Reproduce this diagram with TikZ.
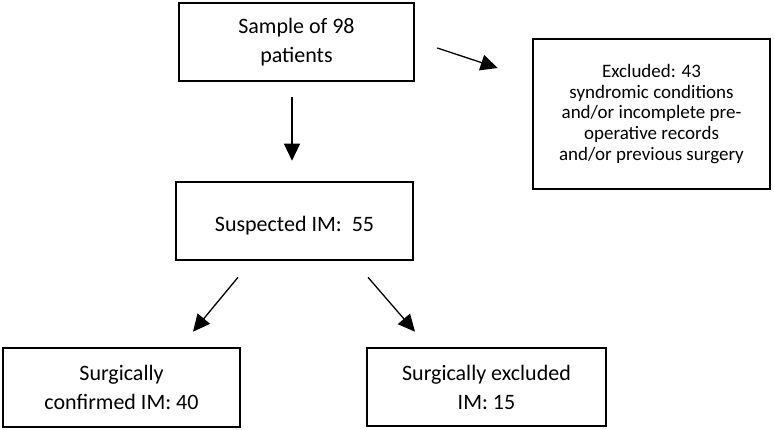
\documentclass[tikz,border=0pt]{standalone}
\usepackage{fontspec}
\setmainfont{Carlito}
\usetikzlibrary{arrows.meta, calc}

\begin{document}
\begin{tikzpicture}[x=1pt, y=-1pt,
    box/.style={draw, line width=2.6pt, align=center, inner sep=0pt,
      minimum width=237pt, minimum height=78pt,
      font=\fontsize{22}{29}\selectfont,
      execute at begin node={\rule{0pt}{25pt}}},
    flow/.style={-{Triangle[length=17pt, width=16pt]}, line width=1.3pt}]
  \useasboundingbox (0,0) rectangle (774,430);
  % boxes
  \node[box, minimum width=235pt] (sample) at (296.5,42) {Sample of 98\\patients};
  \node[box, minimum height=150pt, font=\fontsize{19}{20.75}\selectfont,
    execute at begin node={}] (excl) at (651.5,114)
    {Excluded: 43\\syndromic conditions\\and/or incomplete pre-\\operative records\\and/or previous surgery};
  \node[box] (susp) at (294.5,221) {Suspected IM:\ \ 55};
  \node[box, minimum height=79pt] (conf) at (121.5,387.5) {Surgically\\confirmed IM: 40};
  \node[box, minimum width=239pt] (exim) at (486.5,387) {Surgically excluded\\IM: 15};
  % arrows
  \draw[flow] ($(sample.south)+(-4.5,15)$) -- ($(susp.north)+(-2.5,-20)$);
  \draw[flow] ($(sample.east)+(22,6)$) -- ($(excl.west)+(-34,-46)$);
  \draw[flow] ($(susp.south)+(-56.5,16)$) -- ($(conf.north)+(71.5,-15)$);
  \draw[flow] ($(susp.south)+(73.5,16)$) -- ($(exim.north)+(-71.5,-15)$);
\end{tikzpicture}
\end{document}
